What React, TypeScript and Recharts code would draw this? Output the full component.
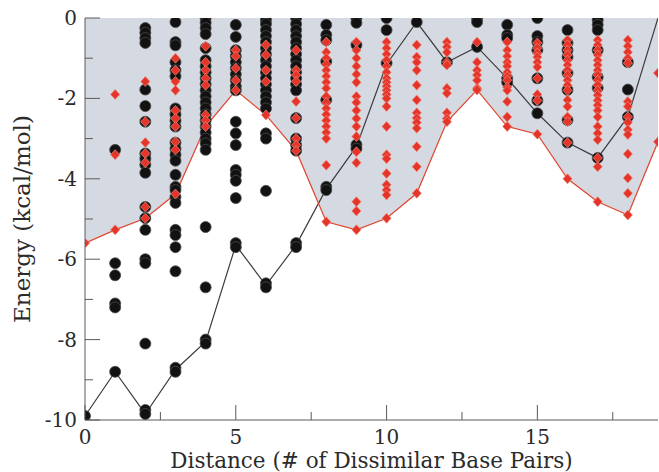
import React from 'react';
import { ComposedChart, Area, Line, Scatter, XAxis, YAxis } from 'recharts';

// distance (# of dissimilar base pairs)
const distances = [0, 1, 2, 3, 4, 5, 6, 7, 8, 9, 10, 11, 12, 13, 14, 15, 16, 17, 18, 19];

// lowest energy per distance, black set and red set
const lowestBlack = [-9.9, -8.8, -9.85, -8.75, -8.05, -5.65, -6.65, -5.65, -4.25, -3.2, -1.15, -0.1, -1.1, -0.72, -1.5, -2.37, -3.1, -3.48, -2.46, 0];
const lowestRed = [-5.6, -5.27, -4.98, -4.38, -2.7, -1.8, -2.41, -3.3, -5.07, -5.27, -4.98, -4.36, -2.58, -1.79, -2.7, -2.89, -4.0, -4.57, -4.9, -3.08];

// every structure energy, one list per distance
const blackEnergies: number[][] = [
  [-9.9],
  [-3.28, -6.1, -6.4, -7.1, -7.2, -8.8],
  [-0.25, -0.37, -0.5, -0.62, -1.78, -2.19, -2.58, -3.37, -3.5, -3.65, -3.85, -4.7, -4.98, -5.27, -6.0, -6.1, -8.1, -9.75, -9.85],
  [-0.1, -0.6, -0.68, -1.1, -1.3, -1.45, -2.25, -2.4, -2.55, -2.7, -3.1, -3.25, -3.4, -3.55, -3.9, -4.2, -4.28, -4.45, -4.6, -5.27, -5.4, -5.7, -6.3, -8.7, -8.8],
  [0, -0.12, -0.25, -0.4, -0.75, -1.05, -1.2, -1.35, -1.5, -1.65, -1.8, -1.95, -2.1, -2.25, -2.4, -2.55, -2.7, -2.85, -3.0, -3.12, -3.28, -5.2, -6.7, -8.0, -8.1],
  [-0.17, -0.47, -0.8, -0.95, -1.1, -1.25, -1.4, -1.55, -1.7, -1.8, -2.58, -2.87, -3.16, -3.78, -3.9, -4.05, -4.48, -5.6, -5.7],
  [-0.05, -0.15, -0.3, -0.45, -0.6, -0.75, -0.9, -1.05, -1.2, -1.35, -1.5, -1.65, -1.8, -1.95, -2.1, -2.25, -2.87, -3.0, -4.3, -6.6, -6.7],
  [0, -0.15, -0.3, -0.45, -0.6, -0.75, -0.9, -1.05, -1.2, -1.35, -1.5, -1.65, -1.8, -2.49, -3.0, -3.16, -3.3, -5.6, -5.7],
  [-0.17, -0.42, -0.55, -1.08, -2.04, -4.2, -4.28],
  [0, -0.12, -0.67, -3.15, -3.25],
  [0, -0.3, -1.12],
  [-0.1],
  [-1.1],
  [0, -0.1, -0.72],
  [-0.17, -0.42, -0.5, -1.5, -1.6],
  [0, -0.45, -0.6, -0.8, -1.5, -2.05, -2.37],
  [-0.3, -0.62, -0.8, -0.97, -1.37, -1.79, -2.54, -3.1],
  [-0.05, -0.17, -0.3, -0.8, -1.47, -1.74, -3.48],
  [-1.1, -1.78, -2.46],
  [],
];

const redEnergies: number[][] = [
  [-5.6],
  [-1.9, -3.4, -5.27],
  [-1.58, -2.58, -3.1, -3.37, -3.6, -4.7, -4.98],
  [-1.0, -1.3, -1.58, -1.8, -2.3, -2.5, -2.7, -3.08, -3.28, -4.38],
  [-0.7, -1.1, -1.3, -1.5, -1.67, -2.41, -2.55, -2.7],
  [-0.8, -0.95, -1.25, -1.55, -1.8],
  [-0.67, -0.92, -1.3, -1.58, -2.41],
  [-0.8, -1.3, -1.42, -1.58, -2.08, -2.49, -3.0, -3.16, -3.3],
  [-0.6, -0.85, -1.0, -1.15, -1.3, -1.45, -1.6, -1.75, -1.95, -2.1, -2.25, -2.4, -2.55, -2.7, -2.85, -3.0, -3.66, -5.07],
  [-0.6, -0.8, -1.0, -1.2, -1.4, -1.6, -1.95, -2.1, -2.3, -2.5, -2.7, -2.95, -3.33, -3.6, -4.57, -4.8, -5.27],
  [-0.6, -0.75, -0.9, -1.05, -1.2, -1.35, -1.5, -1.6, -1.7, -1.8, -1.9, -2.0, -2.2, -2.7, -3.4, -3.5, -3.87, -4.15, -4.28, -4.4, -4.98],
  [-0.67, -0.97, -1.1, -1.3, -1.67, -2.04, -2.36, -2.49, -2.6, -2.74, -3.2, -3.7, -4.36],
  [-0.6, -0.72, -0.85, -1.1, -1.17, -1.75, -1.87, -2.36, -2.5, -2.58],
  [-0.6, -1.1, -1.3, -1.42, -1.55, -1.75, -1.79],
  [-0.6, -0.8, -0.95, -1.1, -1.2, -1.35, -1.45, -1.55, -1.72, -1.8, -2.08, -2.46, -2.7],
  [-0.62, -0.75, -0.87, -0.97, -1.1, -1.22, -1.5, -1.9, -2.05, -2.89],
  [-0.55, -0.67, -0.8, -0.92, -1.05, -1.17, -1.3, -1.42, -1.55, -1.67, -1.8, -2.04, -2.2, -2.46, -2.58, -3.1, -4.0],
  [-0.55, -0.67, -0.8, -0.92, -1.05, -1.17, -1.3, -1.42, -1.55, -1.67, -1.8, -1.92, -2.05, -2.17, -2.3, -2.46, -2.7, -2.87, -3.03, -3.48, -3.7, -4.57],
  [-0.55, -0.7, -0.85, -1.0, -1.12, -2.08, -2.2, -2.46, -2.6, -2.78, -2.9, -3.38, -3.98, -4.36, -4.9],
  [-1.37, -3.08],
];

const xTicks = [0, 2.5, 5, 7.5, 10, 12.5, 15, 17.5];
const yTicks = [0, -1, -2, -3, -4, -5, -6, -7, -8, -9, -10];

const envelope = distances.map((d, i) => ({ x: d, black: lowestBlack[i], red: lowestRed[i] }));
const toPoints = (cols: number[][]) => cols.flatMap((vals, i) => vals.map((y) => ({ x: distances[i], y })));
const blackPoints = toPoints(blackEnergies);
const redPoints = toPoints(redEnergies);

const FONT = '"DejaVu Serif", serif';
const FRAME = '#5a5a5a';
const TEXT = '#2b2b2b';

const BlackDot = (p: any) => <circle cx={p.cx} cy={p.cy} r={5.5} fill="#121212" stroke="#4a4a4a" strokeWidth={0.8} />;
const RedDiamond = (p: any) => (
  <polygon
    points={`${p.cx},${p.cy - 5} ${p.cx + 4.6},${p.cy} ${p.cx},${p.cy + 5} ${p.cx - 4.6},${p.cy}`}
    fill="#e5352a"
    stroke="#f08a78"
    strokeWidth={0.7}
  />
);

const BottomTick = ({ x, y, payload }: any) => {
  const major = payload.value % 5 === 0;
  return (
    <g>
      <line x1={x} y1={y} x2={x} y2={y - (major ? 15 : 8)} stroke={FRAME} />
      {major && (
        <text x={x} y={y + 24} textAnchor="middle" fontFamily={FONT} fontSize={20} fill={TEXT}>
          {payload.value}
        </text>
      )}
    </g>
  );
};

const TopTick = ({ x, y, payload }: any) => {
  const major = payload.value % 5 === 0;
  return <line x1={x} y1={y} x2={x} y2={y + (major ? 15 : 8)} stroke={FRAME} />;
};

const LeftTick = ({ x, y, payload }: any) => {
  const major = payload.value % 2 === 0;
  return (
    <g>
      <line x1={x} y1={y} x2={x + (major ? 15 : 8)} y2={y} stroke={FRAME} />
      {major && (
        <text x={x - 8} y={y + 7} textAnchor="end" fontFamily={FONT} fontSize={20} fill={TEXT}>
          {payload.value}
        </text>
      )}
    </g>
  );
};

const RightTick = ({ x, y, payload }: any) => {
  const major = payload.value % 2 === 0;
  return <line x1={x} y1={y} x2={x - (major ? 13 : 7)} y2={y} stroke={FRAME} />;
};

export default function App() {
  return (
    <div style={{ position: 'absolute', left: 0, top: 0, background: '#fff' }}>
      <ComposedChart width={659} height={472} margin={{ top: 18, right: 1, bottom: 0, left: 0 }}>
        <XAxis
          type="number"
          dataKey="x"
          domain={[0, 19]}
          ticks={xTicks}
          interval={0}
          allowDataOverflow
          height={52}
          tickSize={0}
          tickMargin={0}
          tickLine={false}
          tick={<BottomTick />}
          axisLine={{ stroke: FRAME }}
          label={{
            content: ({ viewBox }: any) => (
              <text x={viewBox.x + viewBox.width / 2} y={viewBox.y + 48} textAnchor="middle" fontFamily={FONT} fontSize={21.5} fill={TEXT}>
                Distance (# of Dissimilar Base Pairs)
              </text>
            ),
          }}
        />
        <XAxis
          xAxisId="top"
          orientation="top"
          type="number"
          dataKey="x"
          domain={[0, 19]}
          ticks={xTicks}
          interval={0}
          allowDataOverflow
          height={0}
          tickSize={0}
          tickMargin={0}
          tickLine={false}
          tick={<TopTick />}
          axisLine={{ stroke: FRAME }}
        />
        <YAxis
          type="number"
          domain={[-10, 0]}
          ticks={yTicks}
          interval={0}
          allowDataOverflow
          width={85}
          tickSize={0}
          tickMargin={0}
          tickLine={false}
          tick={<LeftTick />}
          axisLine={{ stroke: FRAME }}
          label={{
            content: ({ viewBox }: any) => {
              const cx = viewBox.x + 22;
              const cy = viewBox.y + viewBox.height / 2;
              return (
                <text x={cx} y={cy} transform={`rotate(-90 ${cx} ${cy})`} textAnchor="middle" dominantBaseline="central" fontFamily={FONT} fontSize={23} fill={TEXT}>
                  Energy (kcal/mol)
                </text>
              );
            },
          }}
        />
        <YAxis
          yAxisId="right"
          orientation="right"
          type="number"
          domain={[-10, 0]}
          ticks={yTicks}
          interval={0}
          allowDataOverflow
          width={0}
          tickSize={0}
          tickMargin={0}
          tickLine={false}
          tick={<RightTick />}
          axisLine={{ stroke: FRAME }}
        />
        <Area data={envelope} dataKey="red" type="linear" baseValue={0} fill="#d5d9e1" fillOpacity={1} stroke="none" isAnimationActive={false} />
        <Line data={envelope} dataKey="black" type="linear" stroke="#3c3c3c" strokeWidth={1.2} dot={false} isAnimationActive={false} />
        <Line data={envelope} dataKey="red" type="linear" stroke="#e0452f" strokeWidth={1.2} dot={false} isAnimationActive={false} />
        <Scatter data={blackPoints} dataKey="y" shape={BlackDot} isAnimationActive={false} />
        <Scatter data={redPoints} dataKey="y" shape={RedDiamond} isAnimationActive={false} />
      </ComposedChart>
    </div>
  );
}
